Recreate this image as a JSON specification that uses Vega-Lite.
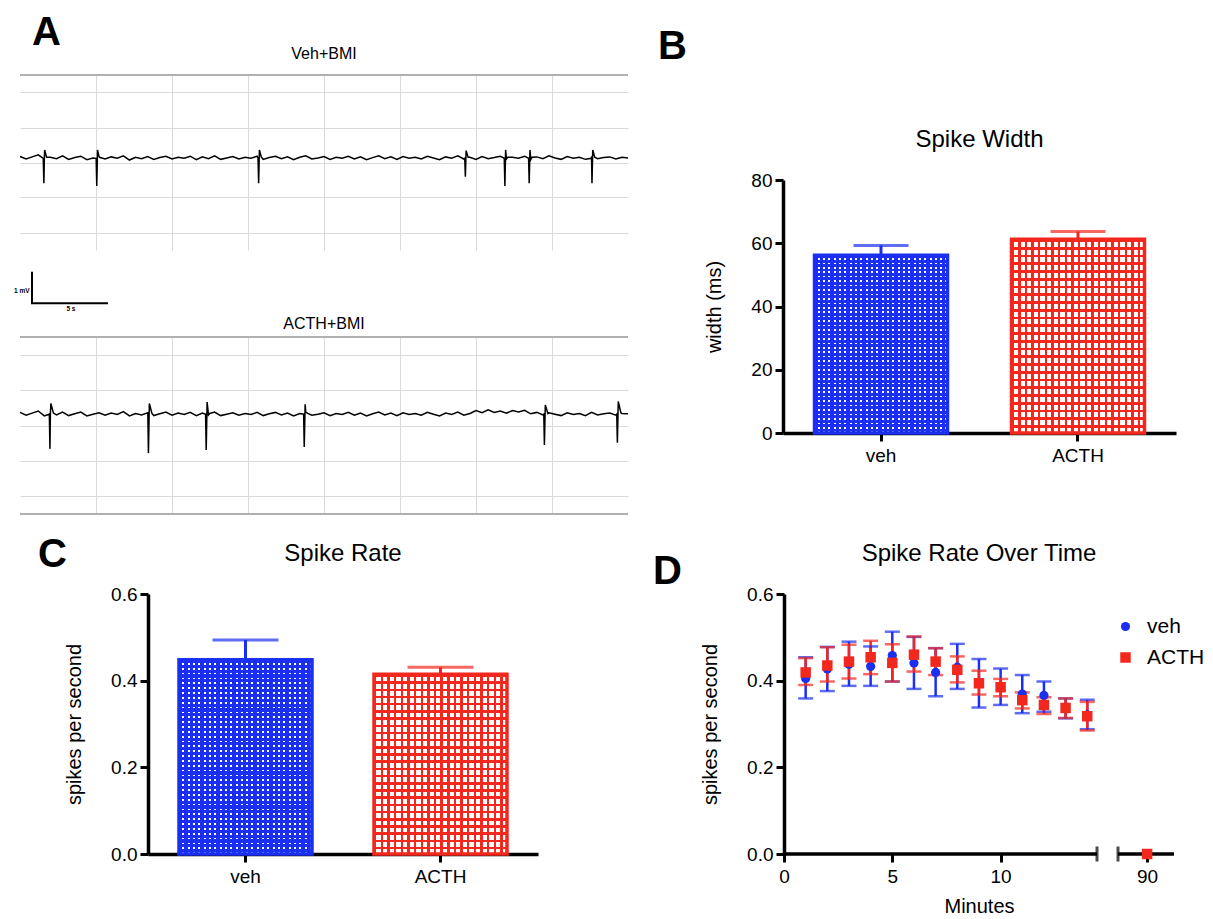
{
  "$schema": "https://vega.github.io/schema/vega-lite/v6.json",
  "background": "white",
  "padding": {"left": 14, "top": 13, "right": 0, "bottom": 0},
  "config": {
    "font": "Liberation Sans",
    "view": {"stroke": null},
    "title": {"font": "Liberation Sans", "fontWeight": "normal", "color": "black"},
    "axis": {
      "domainColor": "black", "domainWidth": 3.5, "tickColor": "black", "tickWidth": 3, "tickSize": 8,
      "labelColor": "black", "labelFontSize": 19, "labelFont": "Liberation Sans", "labelPadding": 3,
      "titleFont": "Liberation Sans", "titleFontSize": 20, "titleFontWeight": "normal", "titleColor": "black",
      "grid": false
    },
    "style": {
      "blueH": {"stroke": null, "color": {"gradient": "linear", "x1": 0, "y1": 0, "x2": 0, "y2": 1, "stops": [
        {"offset":0,"color":"#1b2ff0"},{"offset":0.016,"color":"#1b2ff0"},{"offset":0.016,"color":"#ffffff"},{"offset":0.025,"color":"#ffffff"},
        {"offset":0.025,"color":"#1b2ff0"},{"offset":0.041,"color":"#1b2ff0"},{"offset":0.041,"color":"#ffffff"},{"offset":0.05,"color":"#ffffff"},
        {"offset":0.05,"color":"#1b2ff0"},{"offset":0.066,"color":"#1b2ff0"},{"offset":0.066,"color":"#ffffff"},{"offset":0.075,"color":"#ffffff"},
        {"offset":0.075,"color":"#1b2ff0"},{"offset":0.091,"color":"#1b2ff0"},{"offset":0.091,"color":"#ffffff"},{"offset":0.1,"color":"#ffffff"},
        {"offset":0.1,"color":"#1b2ff0"},{"offset":0.116,"color":"#1b2ff0"},{"offset":0.116,"color":"#ffffff"},{"offset":0.125,"color":"#ffffff"},
        {"offset":0.125,"color":"#1b2ff0"},{"offset":0.141,"color":"#1b2ff0"},{"offset":0.141,"color":"#ffffff"},{"offset":0.15,"color":"#ffffff"},
        {"offset":0.15,"color":"#1b2ff0"},{"offset":0.166,"color":"#1b2ff0"},{"offset":0.166,"color":"#ffffff"},{"offset":0.175,"color":"#ffffff"},
        {"offset":0.175,"color":"#1b2ff0"},{"offset":0.191,"color":"#1b2ff0"},{"offset":0.191,"color":"#ffffff"},{"offset":0.2,"color":"#ffffff"},
        {"offset":0.2,"color":"#1b2ff0"},{"offset":0.216,"color":"#1b2ff0"},{"offset":0.216,"color":"#ffffff"},{"offset":0.225,"color":"#ffffff"},
        {"offset":0.225,"color":"#1b2ff0"},{"offset":0.241,"color":"#1b2ff0"},{"offset":0.241,"color":"#ffffff"},{"offset":0.25,"color":"#ffffff"},
        {"offset":0.25,"color":"#1b2ff0"},{"offset":0.266,"color":"#1b2ff0"},{"offset":0.266,"color":"#ffffff"},{"offset":0.275,"color":"#ffffff"},
        {"offset":0.275,"color":"#1b2ff0"},{"offset":0.291,"color":"#1b2ff0"},{"offset":0.291,"color":"#ffffff"},{"offset":0.3,"color":"#ffffff"},
        {"offset":0.3,"color":"#1b2ff0"},{"offset":0.316,"color":"#1b2ff0"},{"offset":0.316,"color":"#ffffff"},{"offset":0.325,"color":"#ffffff"},
        {"offset":0.325,"color":"#1b2ff0"},{"offset":0.341,"color":"#1b2ff0"},{"offset":0.341,"color":"#ffffff"},{"offset":0.35,"color":"#ffffff"},
        {"offset":0.35,"color":"#1b2ff0"},{"offset":0.366,"color":"#1b2ff0"},{"offset":0.366,"color":"#ffffff"},{"offset":0.375,"color":"#ffffff"},
        {"offset":0.375,"color":"#1b2ff0"},{"offset":0.391,"color":"#1b2ff0"},{"offset":0.391,"color":"#ffffff"},{"offset":0.4,"color":"#ffffff"},
        {"offset":0.4,"color":"#1b2ff0"},{"offset":0.416,"color":"#1b2ff0"},{"offset":0.416,"color":"#ffffff"},{"offset":0.425,"color":"#ffffff"},
        {"offset":0.425,"color":"#1b2ff0"},{"offset":0.441,"color":"#1b2ff0"},{"offset":0.441,"color":"#ffffff"},{"offset":0.45,"color":"#ffffff"},
        {"offset":0.45,"color":"#1b2ff0"},{"offset":0.466,"color":"#1b2ff0"},{"offset":0.466,"color":"#ffffff"},{"offset":0.475,"color":"#ffffff"},
        {"offset":0.475,"color":"#1b2ff0"},{"offset":0.491,"color":"#1b2ff0"},{"offset":0.491,"color":"#ffffff"},{"offset":0.5,"color":"#ffffff"},
        {"offset":0.5,"color":"#1b2ff0"},{"offset":0.516,"color":"#1b2ff0"},{"offset":0.516,"color":"#ffffff"},{"offset":0.525,"color":"#ffffff"},
        {"offset":0.525,"color":"#1b2ff0"},{"offset":0.541,"color":"#1b2ff0"},{"offset":0.541,"color":"#ffffff"},{"offset":0.55,"color":"#ffffff"},
        {"offset":0.55,"color":"#1b2ff0"},{"offset":0.566,"color":"#1b2ff0"},{"offset":0.566,"color":"#ffffff"},{"offset":0.575,"color":"#ffffff"},
        {"offset":0.575,"color":"#1b2ff0"},{"offset":0.591,"color":"#1b2ff0"},{"offset":0.591,"color":"#ffffff"},{"offset":0.6,"color":"#ffffff"},
        {"offset":0.6,"color":"#1b2ff0"},{"offset":0.616,"color":"#1b2ff0"},{"offset":0.616,"color":"#ffffff"},{"offset":0.625,"color":"#ffffff"},
        {"offset":0.625,"color":"#1b2ff0"},{"offset":0.641,"color":"#1b2ff0"},{"offset":0.641,"color":"#ffffff"},{"offset":0.65,"color":"#ffffff"},
        {"offset":0.65,"color":"#1b2ff0"},{"offset":0.666,"color":"#1b2ff0"},{"offset":0.666,"color":"#ffffff"},{"offset":0.675,"color":"#ffffff"},
        {"offset":0.675,"color":"#1b2ff0"},{"offset":0.691,"color":"#1b2ff0"},{"offset":0.691,"color":"#ffffff"},{"offset":0.7,"color":"#ffffff"},
        {"offset":0.7,"color":"#1b2ff0"},{"offset":0.716,"color":"#1b2ff0"},{"offset":0.716,"color":"#ffffff"},{"offset":0.725,"color":"#ffffff"},
        {"offset":0.725,"color":"#1b2ff0"},{"offset":0.741,"color":"#1b2ff0"},{"offset":0.741,"color":"#ffffff"},{"offset":0.75,"color":"#ffffff"},
        {"offset":0.75,"color":"#1b2ff0"},{"offset":0.766,"color":"#1b2ff0"},{"offset":0.766,"color":"#ffffff"},{"offset":0.775,"color":"#ffffff"},
        {"offset":0.775,"color":"#1b2ff0"},{"offset":0.791,"color":"#1b2ff0"},{"offset":0.791,"color":"#ffffff"},{"offset":0.8,"color":"#ffffff"},
        {"offset":0.8,"color":"#1b2ff0"},{"offset":0.816,"color":"#1b2ff0"},{"offset":0.816,"color":"#ffffff"},{"offset":0.825,"color":"#ffffff"},
        {"offset":0.825,"color":"#1b2ff0"},{"offset":0.841,"color":"#1b2ff0"},{"offset":0.841,"color":"#ffffff"},{"offset":0.85,"color":"#ffffff"},
        {"offset":0.85,"color":"#1b2ff0"},{"offset":0.866,"color":"#1b2ff0"},{"offset":0.866,"color":"#ffffff"},{"offset":0.875,"color":"#ffffff"},
        {"offset":0.875,"color":"#1b2ff0"},{"offset":0.891,"color":"#1b2ff0"},{"offset":0.891,"color":"#ffffff"},{"offset":0.9,"color":"#ffffff"},
        {"offset":0.9,"color":"#1b2ff0"},{"offset":0.916,"color":"#1b2ff0"},{"offset":0.916,"color":"#ffffff"},{"offset":0.925,"color":"#ffffff"},
        {"offset":0.925,"color":"#1b2ff0"},{"offset":0.941,"color":"#1b2ff0"},{"offset":0.941,"color":"#ffffff"},{"offset":0.95,"color":"#ffffff"},
        {"offset":0.95,"color":"#1b2ff0"},{"offset":0.966,"color":"#1b2ff0"},{"offset":0.966,"color":"#ffffff"},{"offset":0.975,"color":"#ffffff"},
        {"offset":0.975,"color":"#1b2ff0"},{"offset":0.991,"color":"#1b2ff0"},{"offset":0.991,"color":"#ffffff"},{"offset":1,"color":"#ffffff"}
      ]}},
      "blueV": {"stroke": null, "color": {"gradient": "linear", "x1": 0, "y1": 0, "x2": 1, "y2": 0, "stops": [
        {"offset":0,"color":"#1b2ff0"},{"offset":0.025,"color":"#1b2ff0"},{"offset":0.025,"color":"rgba(255,255,255,0)"},{"offset":0.04,"color":"rgba(255,255,255,0)"},
        {"offset":0.04,"color":"#1b2ff0"},{"offset":0.065,"color":"#1b2ff0"},{"offset":0.065,"color":"rgba(255,255,255,0)"},{"offset":0.08,"color":"rgba(255,255,255,0)"},
        {"offset":0.08,"color":"#1b2ff0"},{"offset":0.105,"color":"#1b2ff0"},{"offset":0.105,"color":"rgba(255,255,255,0)"},{"offset":0.12,"color":"rgba(255,255,255,0)"},
        {"offset":0.12,"color":"#1b2ff0"},{"offset":0.145,"color":"#1b2ff0"},{"offset":0.145,"color":"rgba(255,255,255,0)"},{"offset":0.16,"color":"rgba(255,255,255,0)"},
        {"offset":0.16,"color":"#1b2ff0"},{"offset":0.185,"color":"#1b2ff0"},{"offset":0.185,"color":"rgba(255,255,255,0)"},{"offset":0.2,"color":"rgba(255,255,255,0)"},
        {"offset":0.2,"color":"#1b2ff0"},{"offset":0.225,"color":"#1b2ff0"},{"offset":0.225,"color":"rgba(255,255,255,0)"},{"offset":0.24,"color":"rgba(255,255,255,0)"},
        {"offset":0.24,"color":"#1b2ff0"},{"offset":0.265,"color":"#1b2ff0"},{"offset":0.265,"color":"rgba(255,255,255,0)"},{"offset":0.28,"color":"rgba(255,255,255,0)"},
        {"offset":0.28,"color":"#1b2ff0"},{"offset":0.305,"color":"#1b2ff0"},{"offset":0.305,"color":"rgba(255,255,255,0)"},{"offset":0.32,"color":"rgba(255,255,255,0)"},
        {"offset":0.32,"color":"#1b2ff0"},{"offset":0.345,"color":"#1b2ff0"},{"offset":0.345,"color":"rgba(255,255,255,0)"},{"offset":0.36,"color":"rgba(255,255,255,0)"},
        {"offset":0.36,"color":"#1b2ff0"},{"offset":0.385,"color":"#1b2ff0"},{"offset":0.385,"color":"rgba(255,255,255,0)"},{"offset":0.4,"color":"rgba(255,255,255,0)"},
        {"offset":0.4,"color":"#1b2ff0"},{"offset":0.425,"color":"#1b2ff0"},{"offset":0.425,"color":"rgba(255,255,255,0)"},{"offset":0.44,"color":"rgba(255,255,255,0)"},
        {"offset":0.44,"color":"#1b2ff0"},{"offset":0.465,"color":"#1b2ff0"},{"offset":0.465,"color":"rgba(255,255,255,0)"},{"offset":0.48,"color":"rgba(255,255,255,0)"},
        {"offset":0.48,"color":"#1b2ff0"},{"offset":0.505,"color":"#1b2ff0"},{"offset":0.505,"color":"rgba(255,255,255,0)"},{"offset":0.52,"color":"rgba(255,255,255,0)"},
        {"offset":0.52,"color":"#1b2ff0"},{"offset":0.545,"color":"#1b2ff0"},{"offset":0.545,"color":"rgba(255,255,255,0)"},{"offset":0.56,"color":"rgba(255,255,255,0)"},
        {"offset":0.56,"color":"#1b2ff0"},{"offset":0.585,"color":"#1b2ff0"},{"offset":0.585,"color":"rgba(255,255,255,0)"},{"offset":0.6,"color":"rgba(255,255,255,0)"},
        {"offset":0.6,"color":"#1b2ff0"},{"offset":0.625,"color":"#1b2ff0"},{"offset":0.625,"color":"rgba(255,255,255,0)"},{"offset":0.64,"color":"rgba(255,255,255,0)"},
        {"offset":0.64,"color":"#1b2ff0"},{"offset":0.665,"color":"#1b2ff0"},{"offset":0.665,"color":"rgba(255,255,255,0)"},{"offset":0.68,"color":"rgba(255,255,255,0)"},
        {"offset":0.68,"color":"#1b2ff0"},{"offset":0.705,"color":"#1b2ff0"},{"offset":0.705,"color":"rgba(255,255,255,0)"},{"offset":0.72,"color":"rgba(255,255,255,0)"},
        {"offset":0.72,"color":"#1b2ff0"},{"offset":0.745,"color":"#1b2ff0"},{"offset":0.745,"color":"rgba(255,255,255,0)"},{"offset":0.76,"color":"rgba(255,255,255,0)"},
        {"offset":0.76,"color":"#1b2ff0"},{"offset":0.785,"color":"#1b2ff0"},{"offset":0.785,"color":"rgba(255,255,255,0)"},{"offset":0.8,"color":"rgba(255,255,255,0)"},
        {"offset":0.8,"color":"#1b2ff0"},{"offset":0.825,"color":"#1b2ff0"},{"offset":0.825,"color":"rgba(255,255,255,0)"},{"offset":0.84,"color":"rgba(255,255,255,0)"},
        {"offset":0.84,"color":"#1b2ff0"},{"offset":0.865,"color":"#1b2ff0"},{"offset":0.865,"color":"rgba(255,255,255,0)"},{"offset":0.88,"color":"rgba(255,255,255,0)"},
        {"offset":0.88,"color":"#1b2ff0"},{"offset":0.905,"color":"#1b2ff0"},{"offset":0.905,"color":"rgba(255,255,255,0)"},{"offset":0.92,"color":"rgba(255,255,255,0)"},
        {"offset":0.92,"color":"#1b2ff0"},{"offset":0.945,"color":"#1b2ff0"},{"offset":0.945,"color":"rgba(255,255,255,0)"},{"offset":0.96,"color":"rgba(255,255,255,0)"},
        {"offset":0.96,"color":"#1b2ff0"},{"offset":0.985,"color":"#1b2ff0"},{"offset":0.985,"color":"rgba(255,255,255,0)"},{"offset":1,"color":"rgba(255,255,255,0)"}
      ]}},
      "redH": {"stroke": null, "color": {"gradient": "linear", "x1": 0, "y1": 0, "x2": 0, "y2": 1, "stops": [
        {"offset":0,"color":"#f2281e"},{"offset":0.014,"color":"#f2281e"},{"offset":0.014,"color":"#ffffff"},{"offset":0.04,"color":"#ffffff"},
        {"offset":0.04,"color":"#f2281e"},{"offset":0.054,"color":"#f2281e"},{"offset":0.054,"color":"#ffffff"},{"offset":0.08,"color":"#ffffff"},
        {"offset":0.08,"color":"#f2281e"},{"offset":0.094,"color":"#f2281e"},{"offset":0.094,"color":"#ffffff"},{"offset":0.12,"color":"#ffffff"},
        {"offset":0.12,"color":"#f2281e"},{"offset":0.134,"color":"#f2281e"},{"offset":0.134,"color":"#ffffff"},{"offset":0.16,"color":"#ffffff"},
        {"offset":0.16,"color":"#f2281e"},{"offset":0.174,"color":"#f2281e"},{"offset":0.174,"color":"#ffffff"},{"offset":0.2,"color":"#ffffff"},
        {"offset":0.2,"color":"#f2281e"},{"offset":0.214,"color":"#f2281e"},{"offset":0.214,"color":"#ffffff"},{"offset":0.24,"color":"#ffffff"},
        {"offset":0.24,"color":"#f2281e"},{"offset":0.254,"color":"#f2281e"},{"offset":0.254,"color":"#ffffff"},{"offset":0.28,"color":"#ffffff"},
        {"offset":0.28,"color":"#f2281e"},{"offset":0.294,"color":"#f2281e"},{"offset":0.294,"color":"#ffffff"},{"offset":0.32,"color":"#ffffff"},
        {"offset":0.32,"color":"#f2281e"},{"offset":0.334,"color":"#f2281e"},{"offset":0.334,"color":"#ffffff"},{"offset":0.36,"color":"#ffffff"},
        {"offset":0.36,"color":"#f2281e"},{"offset":0.374,"color":"#f2281e"},{"offset":0.374,"color":"#ffffff"},{"offset":0.4,"color":"#ffffff"},
        {"offset":0.4,"color":"#f2281e"},{"offset":0.414,"color":"#f2281e"},{"offset":0.414,"color":"#ffffff"},{"offset":0.44,"color":"#ffffff"},
        {"offset":0.44,"color":"#f2281e"},{"offset":0.454,"color":"#f2281e"},{"offset":0.454,"color":"#ffffff"},{"offset":0.48,"color":"#ffffff"},
        {"offset":0.48,"color":"#f2281e"},{"offset":0.494,"color":"#f2281e"},{"offset":0.494,"color":"#ffffff"},{"offset":0.52,"color":"#ffffff"},
        {"offset":0.52,"color":"#f2281e"},{"offset":0.534,"color":"#f2281e"},{"offset":0.534,"color":"#ffffff"},{"offset":0.56,"color":"#ffffff"},
        {"offset":0.56,"color":"#f2281e"},{"offset":0.574,"color":"#f2281e"},{"offset":0.574,"color":"#ffffff"},{"offset":0.6,"color":"#ffffff"},
        {"offset":0.6,"color":"#f2281e"},{"offset":0.614,"color":"#f2281e"},{"offset":0.614,"color":"#ffffff"},{"offset":0.64,"color":"#ffffff"},
        {"offset":0.64,"color":"#f2281e"},{"offset":0.654,"color":"#f2281e"},{"offset":0.654,"color":"#ffffff"},{"offset":0.68,"color":"#ffffff"},
        {"offset":0.68,"color":"#f2281e"},{"offset":0.694,"color":"#f2281e"},{"offset":0.694,"color":"#ffffff"},{"offset":0.72,"color":"#ffffff"},
        {"offset":0.72,"color":"#f2281e"},{"offset":0.734,"color":"#f2281e"},{"offset":0.734,"color":"#ffffff"},{"offset":0.76,"color":"#ffffff"},
        {"offset":0.76,"color":"#f2281e"},{"offset":0.774,"color":"#f2281e"},{"offset":0.774,"color":"#ffffff"},{"offset":0.8,"color":"#ffffff"},
        {"offset":0.8,"color":"#f2281e"},{"offset":0.814,"color":"#f2281e"},{"offset":0.814,"color":"#ffffff"},{"offset":0.84,"color":"#ffffff"},
        {"offset":0.84,"color":"#f2281e"},{"offset":0.854,"color":"#f2281e"},{"offset":0.854,"color":"#ffffff"},{"offset":0.88,"color":"#ffffff"},
        {"offset":0.88,"color":"#f2281e"},{"offset":0.894,"color":"#f2281e"},{"offset":0.894,"color":"#ffffff"},{"offset":0.92,"color":"#ffffff"},
        {"offset":0.92,"color":"#f2281e"},{"offset":0.934,"color":"#f2281e"},{"offset":0.934,"color":"#ffffff"},{"offset":0.96,"color":"#ffffff"},
        {"offset":0.96,"color":"#f2281e"},{"offset":0.974,"color":"#f2281e"},{"offset":0.974,"color":"#ffffff"},{"offset":1,"color":"#ffffff"}
      ]}},
      "redV": {"stroke": null, "color": {"gradient": "linear", "x1": 0, "y1": 0, "x2": 1, "y2": 0, "stops": [
        {"offset":0,"color":"#f2281e"},{"offset":0.018,"color":"#f2281e"},{"offset":0.018,"color":"rgba(255,255,255,0)"},{"offset":0.05,"color":"rgba(255,255,255,0)"},
        {"offset":0.05,"color":"#f2281e"},{"offset":0.068,"color":"#f2281e"},{"offset":0.068,"color":"rgba(255,255,255,0)"},{"offset":0.1,"color":"rgba(255,255,255,0)"},
        {"offset":0.1,"color":"#f2281e"},{"offset":0.118,"color":"#f2281e"},{"offset":0.118,"color":"rgba(255,255,255,0)"},{"offset":0.15,"color":"rgba(255,255,255,0)"},
        {"offset":0.15,"color":"#f2281e"},{"offset":0.168,"color":"#f2281e"},{"offset":0.168,"color":"rgba(255,255,255,0)"},{"offset":0.2,"color":"rgba(255,255,255,0)"},
        {"offset":0.2,"color":"#f2281e"},{"offset":0.218,"color":"#f2281e"},{"offset":0.218,"color":"rgba(255,255,255,0)"},{"offset":0.25,"color":"rgba(255,255,255,0)"},
        {"offset":0.25,"color":"#f2281e"},{"offset":0.268,"color":"#f2281e"},{"offset":0.268,"color":"rgba(255,255,255,0)"},{"offset":0.3,"color":"rgba(255,255,255,0)"},
        {"offset":0.3,"color":"#f2281e"},{"offset":0.318,"color":"#f2281e"},{"offset":0.318,"color":"rgba(255,255,255,0)"},{"offset":0.35,"color":"rgba(255,255,255,0)"},
        {"offset":0.35,"color":"#f2281e"},{"offset":0.368,"color":"#f2281e"},{"offset":0.368,"color":"rgba(255,255,255,0)"},{"offset":0.4,"color":"rgba(255,255,255,0)"},
        {"offset":0.4,"color":"#f2281e"},{"offset":0.418,"color":"#f2281e"},{"offset":0.418,"color":"rgba(255,255,255,0)"},{"offset":0.45,"color":"rgba(255,255,255,0)"},
        {"offset":0.45,"color":"#f2281e"},{"offset":0.468,"color":"#f2281e"},{"offset":0.468,"color":"rgba(255,255,255,0)"},{"offset":0.5,"color":"rgba(255,255,255,0)"},
        {"offset":0.5,"color":"#f2281e"},{"offset":0.518,"color":"#f2281e"},{"offset":0.518,"color":"rgba(255,255,255,0)"},{"offset":0.55,"color":"rgba(255,255,255,0)"},
        {"offset":0.55,"color":"#f2281e"},{"offset":0.568,"color":"#f2281e"},{"offset":0.568,"color":"rgba(255,255,255,0)"},{"offset":0.6,"color":"rgba(255,255,255,0)"},
        {"offset":0.6,"color":"#f2281e"},{"offset":0.618,"color":"#f2281e"},{"offset":0.618,"color":"rgba(255,255,255,0)"},{"offset":0.65,"color":"rgba(255,255,255,0)"},
        {"offset":0.65,"color":"#f2281e"},{"offset":0.668,"color":"#f2281e"},{"offset":0.668,"color":"rgba(255,255,255,0)"},{"offset":0.7,"color":"rgba(255,255,255,0)"},
        {"offset":0.7,"color":"#f2281e"},{"offset":0.718,"color":"#f2281e"},{"offset":0.718,"color":"rgba(255,255,255,0)"},{"offset":0.75,"color":"rgba(255,255,255,0)"},
        {"offset":0.75,"color":"#f2281e"},{"offset":0.768,"color":"#f2281e"},{"offset":0.768,"color":"rgba(255,255,255,0)"},{"offset":0.8,"color":"rgba(255,255,255,0)"},
        {"offset":0.8,"color":"#f2281e"},{"offset":0.818,"color":"#f2281e"},{"offset":0.818,"color":"rgba(255,255,255,0)"},{"offset":0.85,"color":"rgba(255,255,255,0)"},
        {"offset":0.85,"color":"#f2281e"},{"offset":0.868,"color":"#f2281e"},{"offset":0.868,"color":"rgba(255,255,255,0)"},{"offset":0.9,"color":"rgba(255,255,255,0)"},
        {"offset":0.9,"color":"#f2281e"},{"offset":0.918,"color":"#f2281e"},{"offset":0.918,"color":"rgba(255,255,255,0)"},{"offset":0.95,"color":"rgba(255,255,255,0)"},
        {"offset":0.95,"color":"#f2281e"},{"offset":0.968,"color":"#f2281e"},{"offset":0.968,"color":"rgba(255,255,255,0)"},{"offset":1,"color":"rgba(255,255,255,0)"}
      ]}}
    }
  },
  "datasets": {
    "trace1": [
      {"t":0,"v":0.17},{"t":0.4,"v":0.10},{"t":0.8,"v":0.16},{"t":1.2,"v":0.22},{"t":1.6,"v":0.08},{"t":2.0,"v":0.15},{"t":2.4,"v":0.11},{"t":2.8,"v":0.19},{"t":3.2,"v":0.09},{"t":3.6,"v":0.14},
      {"t":4.0,"v":0.18},{"t":4.4,"v":0.08},{"t":4.8,"v":0.13},{"t":5.2,"v":0.17},{"t":5.6,"v":0.10},{"t":6.0,"v":0.16},{"t":6.4,"v":0.12},{"t":6.8,"v":0.19},{"t":7.2,"v":0.07},{"t":7.6,"v":0.15},
      {"t":8.0,"v":0.11},{"t":8.4,"v":0.17},{"t":8.8,"v":0.09},{"t":9.2,"v":0.14},{"t":9.6,"v":0.18},{"t":10.0,"v":0.10},{"t":10.4,"v":0.15},{"t":10.8,"v":0.12},{"t":11.2,"v":0.18},{"t":11.6,"v":0.08},
      {"t":12.0,"v":0.16},{"t":12.4,"v":0.11},{"t":12.8,"v":0.19},{"t":13.2,"v":0.09},{"t":13.6,"v":0.13},{"t":14.0,"v":0.17},{"t":14.4,"v":0.10},{"t":14.8,"v":0.15},{"t":15.2,"v":0.12},{"t":15.6,"v":0.18},
      {"t":16.0,"v":0.09},{"t":16.4,"v":0.14},{"t":16.8,"v":0.18},{"t":17.2,"v":0.11},{"t":17.6,"v":0.16},{"t":18.0,"v":0.08},{"t":18.4,"v":0.15},{"t":18.8,"v":0.19},{"t":19.2,"v":0.10},{"t":19.6,"v":0.13},
      {"t":20.0,"v":0.17},{"t":20.4,"v":0.09},{"t":20.8,"v":0.15},{"t":21.2,"v":0.12},{"t":21.6,"v":0.18},{"t":22.0,"v":0.10},{"t":22.4,"v":0.16},{"t":22.8,"v":0.08},{"t":23.2,"v":0.14},{"t":23.6,"v":0.19},
      {"t":24.0,"v":0.11},{"t":24.4,"v":0.16},{"t":24.8,"v":0.09},{"t":25.2,"v":0.17},{"t":25.6,"v":0.12},{"t":26.0,"v":0.15},{"t":26.4,"v":0.10},{"t":26.8,"v":0.18},{"t":27.2,"v":0.13},{"t":27.6,"v":0.08},
      {"t":28.0,"v":0.16},{"t":28.4,"v":0.12},{"t":28.8,"v":0.19},{"t":29.2,"v":0.10},{"t":29.6,"v":0.15},{"t":30.0,"v":0.09},{"t":30.4,"v":0.17},{"t":30.8,"v":0.11},{"t":31.2,"v":0.14},{"t":31.6,"v":0.18},
      {"t":32.0,"v":0.10},{"t":32.4,"v":0.15},{"t":32.8,"v":0.12},{"t":33.2,"v":0.18},{"t":33.6,"v":0.08},{"t":34.0,"v":0.16},{"t":34.4,"v":0.11},{"t":34.8,"v":0.19},{"t":35.2,"v":0.13},{"t":35.6,"v":0.09},
      {"t":36.0,"v":0.17},{"t":36.4,"v":0.12},{"t":36.8,"v":0.15},{"t":37.2,"v":0.09},{"t":37.6,"v":0.18},{"t":38.0,"v":0.11},{"t":38.4,"v":0.14},{"t":38.8,"v":0.16},{"t":39.2,"v":0.10},{"t":39.6,"v":0.15},{"t":40.0,"v":0.13},
      {"t":1.53,"v":0.12},{"t":1.57,"v":-0.59},{"t":1.62,"v":0.36},{"t":1.75,"v":0.15},
      {"t":5.01,"v":0.12},{"t":5.05,"v":-0.67},{"t":5.10,"v":0.36},{"t":5.23,"v":0.15},
      {"t":15.66,"v":0.12},{"t":15.70,"v":-0.59},{"t":15.75,"v":0.36},{"t":15.88,"v":0.15},
      {"t":29.26,"v":0.12},{"t":29.30,"v":-0.41},{"t":29.35,"v":0.34},{"t":29.48,"v":0.15},
      {"t":31.86,"v":0.12},{"t":31.90,"v":-0.67},{"t":31.95,"v":0.36},{"t":32.08,"v":0.15},
      {"t":33.46,"v":0.12},{"t":33.50,"v":-0.59},{"t":33.55,"v":0.36},{"t":33.68,"v":0.15},
      {"t":37.59,"v":0.12},{"t":37.63,"v":-0.59},{"t":37.68,"v":0.36},{"t":37.81,"v":0.15}
    ],
    "trace2": [
      {"t":0,"v":0.37},{"t":0.4,"v":0.29},{"t":0.8,"v":0.35},{"t":1.2,"v":0.41},{"t":1.6,"v":0.27},{"t":2.0,"v":0.34},{"t":2.4,"v":0.30},{"t":2.8,"v":0.38},{"t":3.2,"v":0.28},{"t":3.6,"v":0.33},
      {"t":4.0,"v":0.38},{"t":4.4,"v":0.27},{"t":4.8,"v":0.32},{"t":5.2,"v":0.36},{"t":5.6,"v":0.29},{"t":6.0,"v":0.35},{"t":6.4,"v":0.31},{"t":6.8,"v":0.39},{"t":7.2,"v":0.27},{"t":7.6,"v":0.34},
      {"t":8.0,"v":0.30},{"t":8.4,"v":0.36},{"t":8.8,"v":0.28},{"t":9.2,"v":0.33},{"t":9.6,"v":0.38},{"t":10.0,"v":0.29},{"t":10.4,"v":0.35},{"t":10.8,"v":0.31},{"t":11.2,"v":0.37},{"t":11.6,"v":0.28},
      {"t":12.0,"v":0.35},{"t":12.4,"v":0.30},{"t":12.8,"v":0.38},{"t":13.2,"v":0.28},{"t":13.6,"v":0.32},{"t":14.0,"v":0.36},{"t":14.4,"v":0.29},{"t":14.8,"v":0.34},{"t":15.2,"v":0.31},{"t":15.6,"v":0.37},
      {"t":16.0,"v":0.28},{"t":16.4,"v":0.33},{"t":16.8,"v":0.37},{"t":17.2,"v":0.30},{"t":17.6,"v":0.35},{"t":18.0,"v":0.27},{"t":18.4,"v":0.34},{"t":18.8,"v":0.38},{"t":19.2,"v":0.29},{"t":19.6,"v":0.32},
      {"t":20.0,"v":0.36},{"t":20.4,"v":0.28},{"t":20.8,"v":0.34},{"t":21.2,"v":0.31},{"t":21.6,"v":0.37},{"t":22.0,"v":0.29},{"t":22.4,"v":0.35},{"t":22.8,"v":0.27},{"t":23.2,"v":0.33},{"t":23.6,"v":0.38},
      {"t":24.0,"v":0.30},{"t":24.4,"v":0.35},{"t":24.8,"v":0.28},{"t":25.2,"v":0.36},{"t":25.6,"v":0.31},{"t":26.0,"v":0.34},{"t":26.4,"v":0.29},{"t":26.8,"v":0.37},{"t":27.2,"v":0.32},{"t":27.6,"v":0.27},
      {"t":28.0,"v":0.35},{"t":28.4,"v":0.31},{"t":28.8,"v":0.38},{"t":29.2,"v":0.29},{"t":29.6,"v":0.34},{"t":30.0,"v":0.42},{"t":30.4,"v":0.36},{"t":30.8,"v":0.44},{"t":31.2,"v":0.37},{"t":31.6,"v":0.41},
      {"t":32.0,"v":0.35},{"t":32.4,"v":0.42},{"t":32.8,"v":0.38},{"t":33.2,"v":0.43},{"t":33.6,"v":0.33},{"t":34.0,"v":0.37},{"t":34.4,"v":0.30},{"t":34.8,"v":0.36},{"t":35.2,"v":0.32},{"t":35.6,"v":0.28},
      {"t":36.0,"v":0.36},{"t":36.4,"v":0.31},{"t":36.8,"v":0.34},{"t":37.2,"v":0.28},{"t":37.6,"v":0.37},{"t":38.0,"v":0.30},{"t":38.4,"v":0.33},{"t":38.8,"v":0.35},{"t":39.2,"v":0.29},{"t":39.6,"v":0.34},{"t":40.0,"v":0.33},
      {"t":1.93,"v":0.32},{"t":1.97,"v":-0.66},{"t":2.03,"v":0.62},{"t":2.2,"v":0.35},
      {"t":8.41,"v":0.32},{"t":8.45,"v":-0.78},{"t":8.51,"v":0.62},{"t":8.68,"v":0.34},
      {"t":12.21,"v":0.32},{"t":12.25,"v":-0.69},{"t":12.31,"v":0.66},{"t":12.48,"v":0.34},
      {"t":18.66,"v":0.32},{"t":18.70,"v":-0.61},{"t":18.76,"v":0.60},{"t":18.93,"v":0.34},
      {"t":34.46,"v":0.32},{"t":34.50,"v":-0.55},{"t":34.56,"v":0.58},{"t":34.73,"v":0.34},
      {"t":39.26,"v":0.32},{"t":39.30,"v":-0.49},{"t":39.36,"v":0.68},{"t":39.53,"v":0.36}
    ],
    "scalebar": [{"i":1,"t":0.79,"v":1},{"i":2,"t":0.79,"v":0},{"i":3,"t":5.79,"v":0}],
    "scalelabels": [{"t":0.12,"v":0.38,"label":"1 mV"},{"t":3.35,"v":-0.2,"label":"5 s"}],
    "widthData": [{"group":"veh","mean":56.2,"hi":59.3},{"group":"ACTH","mean":61.3,"hi":63.7}],
    "rateBar": [{"group":"veh","mean":0.448,"hi":0.494},{"group":"ACTH","mean":0.415,"hi":0.431}],
    "rateTime": [
      {"group":"veh","minute":1,"mean":0.405,"lo":0.359,"hi":0.454},
      {"group":"veh","minute":2,"mean":0.427,"lo":0.376,"hi":0.478},
      {"group":"veh","minute":3,"mean":0.438,"lo":0.388,"hi":0.490},
      {"group":"veh","minute":4,"mean":0.433,"lo":0.388,"hi":0.479},
      {"group":"veh","minute":5,"mean":0.458,"lo":0.398,"hi":0.513},
      {"group":"veh","minute":6,"mean":0.441,"lo":0.381,"hi":0.501},
      {"group":"veh","minute":7,"mean":0.419,"lo":0.364,"hi":0.475},
      {"group":"veh","minute":8,"mean":0.431,"lo":0.381,"hi":0.485},
      {"group":"veh","minute":9,"mean":0.394,"lo":0.338,"hi":0.450},
      {"group":"veh","minute":10,"mean":0.386,"lo":0.344,"hi":0.428},
      {"group":"veh","minute":11,"mean":0.369,"lo":0.325,"hi":0.413},
      {"group":"veh","minute":12,"mean":0.366,"lo":0.328,"hi":0.398},
      {"group":"veh","minute":13,"mean":0.336,"lo":0.313,"hi":0.359},
      {"group":"veh","minute":14,"mean":0.321,"lo":0.288,"hi":0.356},
      {"group":"veh","minute":90,"mean":0},
      {"group":"ACTH","minute":1,"mean":0.419,"lo":0.390,"hi":0.452},
      {"group":"ACTH","minute":2,"mean":0.435,"lo":0.398,"hi":0.477},
      {"group":"ACTH","minute":3,"mean":0.444,"lo":0.405,"hi":0.483},
      {"group":"ACTH","minute":4,"mean":0.454,"lo":0.415,"hi":0.492},
      {"group":"ACTH","minute":5,"mean":0.441,"lo":0.398,"hi":0.484},
      {"group":"ACTH","minute":6,"mean":0.460,"lo":0.421,"hi":0.502},
      {"group":"ACTH","minute":7,"mean":0.444,"lo":0.413,"hi":0.475},
      {"group":"ACTH","minute":8,"mean":0.425,"lo":0.396,"hi":0.456},
      {"group":"ACTH","minute":9,"mean":0.394,"lo":0.368,"hi":0.423},
      {"group":"ACTH","minute":10,"mean":0.385,"lo":0.364,"hi":0.404},
      {"group":"ACTH","minute":11,"mean":0.355,"lo":0.336,"hi":0.373},
      {"group":"ACTH","minute":12,"mean":0.344,"lo":0.323,"hi":0.362},
      {"group":"ACTH","minute":13,"mean":0.337,"lo":0.314,"hi":0.359},
      {"group":"ACTH","minute":14,"mean":0.318,"lo":0.285,"hi":0.351},
      {"group":"ACTH","minute":90,"mean":0}
    ],
    "xbreak": [{"from":0,"to":14.45},{"from":88.66,"to":91.24}],
    "xcaps": [{"at":14.45},{"at":88.66}]
  },
  "resolve": {
    "scale": {"fill": "independent", "stroke": "independent", "color": "independent", "shape": "independent", "size": "independent"},
    "legend": {"fill": "independent", "stroke": "independent", "color": "independent", "shape": "independent", "size": "independent"}
  },
  "spacing": 20,
  "vconcat": [
    {
      "spacing": 27,
      "resolve": {
        "scale": {"fill": "independent", "stroke": "independent", "color": "independent", "shape": "independent", "size": "independent"},
        "legend": {"fill": "independent", "stroke": "independent", "color": "independent", "shape": "independent", "size": "independent"}
      },
      "hconcat": [
        {
          "title": {"text": "A", "anchor": "start", "fontSize": 40, "fontWeight": "bold", "dx": 18, "offset": -7},
          "spacing": 3,
          "vconcat": [
            {
              "title": {"text": "Veh+BMI", "fontSize": 16, "offset": 12},
              "width": 608, "height": 175,
              "layer": [
                {
                  "data": {"name": "trace1"},
                  "mark": {"type": "line", "color": "black", "strokeWidth": 1.5},
                  "encoding": {
                    "x": {"field": "t", "type": "quantitative", "scale": {"domain": [0, 40], "nice": false, "zero": false},
                          "axis": {"domain": false, "ticks": false, "labels": false, "title": null, "grid": true, "gridColor": "#dadada", "values": [5,10,15,20,25,30,35]}},
                    "y": {"field": "v", "type": "quantitative", "scale": {"domain": [-2.5, 2.5], "nice": false, "zero": false},
                          "axis": {"domain": false, "ticks": false, "labels": false, "title": null, "grid": true, "gridColor": "#dadada", "values": [-2,-1,0,1,2]}}
                  }
                },
                {
                  "data": {"values": [{}]},
                  "mark": {"type": "rule", "color": "#b0b0b0", "strokeWidth": 2},
                  "encoding": {"y": {"datum": 2.5}}
                }
              ]
            },
            {
              "width": 608, "height": 58,
              "layer": [
                {
                  "data": {"name": "scalebar"},
                  "mark": {"type": "line", "color": "black", "strokeWidth": 2},
                  "encoding": {
                    "x": {"field": "t", "type": "quantitative", "scale": {"domain": [0, 40], "nice": false, "zero": false}, "axis": null},
                    "y": {"field": "v", "type": "quantitative", "scale": {"domain": [-0.25, 1.6], "nice": false, "zero": false}, "axis": null},
                    "order": {"field": "i"}
                  }
                },
                {
                  "data": {"name": "scalelabels"},
                  "mark": {"type": "text", "fontSize": 6.5, "fontWeight": "bold", "color": "black"},
                  "encoding": {
                    "x": {"field": "t", "type": "quantitative"},
                    "y": {"field": "v", "type": "quantitative"},
                    "text": {"field": "label"}
                  }
                }
              ]
            },
            {
              "title": {"text": "ACTH+BMI", "fontSize": 16, "offset": 4},
              "width": 608, "height": 177,
              "layer": [
                {
                  "data": {"name": "trace2"},
                  "mark": {"type": "line", "color": "black", "strokeWidth": 1.5},
                  "encoding": {
                    "x": {"field": "t", "type": "quantitative", "scale": {"domain": [0, 40], "nice": false, "zero": false},
                          "axis": {"domain": false, "ticks": false, "labels": false, "title": null, "grid": true, "gridColor": "#dadada", "values": [5,10,15,20,25,30,35]}},
                    "y": {"field": "v", "type": "quantitative", "scale": {"domain": [-2.5, 2.5], "nice": false, "zero": false},
                          "axis": {"domain": false, "ticks": false, "labels": false, "title": null, "grid": true, "gridColor": "#dadada", "values": [-2,-1,0,1,2]}}
                  }
                },
                {
                  "data": {"values": [{"b": 2.5}, {"b": -2.5}]},
                  "mark": {"type": "rule", "color": "#b0b0b0", "strokeWidth": 2},
                  "encoding": {"y": {"field": "b", "type": "quantitative"}}
                }
              ]
            }
          ]
        },
        {
          "spacing": 52,
          "vconcat": [
            {
              "width": 1, "height": 1,
              "title": {"text": "B", "anchor": "start", "fontSize": 40, "fontWeight": "bold", "dx": -125, "offset": 8},
              "data": {"values": []},
              "mark": "point"
            },
            {
              "title": {"text": "Spike Width", "fontSize": 24, "offset": 19},
              "width": 393, "height": 253,
              "data": {"name": "widthData"},
              "encoding": {
                "x": {"field": "group", "type": "nominal", "sort": ["veh", "ACTH"], "scale": {"paddingInner": 0.325, "paddingOuter": 0.16},
                      "axis": {"title": null, "labelAngle": 0, "labelPadding": 5}},
                "y": {"field": "mean", "type": "quantitative", "scale": {"domain": [0, 80], "nice": false},
                      "axis": {"title": "width (ms)", "values": [0, 20, 40, 60, 80], "titlePadding": 26}}
              },
              "layer": [
                {"transform": [{"filter": "datum.group === 'veh'"}], "mark": {"type": "bar", "style": "blueH"}},
                {"transform": [{"filter": "datum.group === 'veh'"}], "mark": {"type": "bar", "style": "blueV"}},
                {"transform": [{"filter": "datum.group === 'ACTH'"}], "mark": {"type": "bar", "style": "redH"}},
                {"transform": [{"filter": "datum.group === 'ACTH'"}], "mark": {"type": "bar", "style": "redV"}},
                {
                  "mark": {"type": "bar", "fillOpacity": 0, "strokeWidth": 3.5},
                  "encoding": {
                    "stroke": {"field": "group", "type": "nominal", "scale": {"domain": ["veh", "ACTH"], "range": ["#1b2ff0", "#f2281e"]}, "legend": null}
                  }
                },
                {
                  "mark": {"type": "rule", "strokeWidth": 3},
                  "encoding": {
                    "y": {"field": "mean", "type": "quantitative", "axis": {"title": "width (ms)"}},
                    "y2": {"field": "hi"},
                    "color": {"field": "group", "type": "nominal", "scale": {"domain": ["veh", "ACTH"], "range": ["#1b2ff0", "#f2281e"]}, "legend": null}
                  }
                },
                {
                  "mark": {"type": "tick", "orient": "horizontal", "size": 55, "thickness": 3},
                  "encoding": {
                    "y": {"field": "hi", "type": "quantitative", "axis": {"title": "width (ms)"}},
                    "color": {"field": "group", "type": "nominal", "legend": null}
                  }
                }
              ]
            }
          ]
        }
      ]
    },
    {
      "spacing": 115,
      "resolve": {
        "scale": {"fill": "independent", "stroke": "independent", "color": "independent", "shape": "independent", "size": "independent"},
        "legend": {"fill": "independent", "stroke": "independent", "color": "independent", "shape": "independent", "size": "independent"}
      },
      "hconcat": [
        {
          "spacing": -3,
          "hconcat": [
            {
              "width": 1, "height": 1,
              "title": {"text": "C", "anchor": "start", "fontSize": 40, "fontWeight": "bold", "dx": 18, "offset": 19},
              "data": {"values": []},
              "mark": "point"
            },
            {
              "title": {"text": "Spike Rate", "fontSize": 24, "offset": 19},
              "width": 390, "height": 260,
              "data": {"name": "rateBar"},
              "encoding": {
                "x": {"field": "group", "type": "nominal", "sort": ["veh", "ACTH"], "scale": {"paddingInner": 0.318, "paddingOuter": 0.159},
                      "axis": {"title": null, "labelAngle": 0, "labelPadding": 5}},
                "y": {"field": "mean", "type": "quantitative", "scale": {"domain": [0, 0.6], "nice": false},
                      "axis": {"title": "spikes per second", "values": [0, 0.2, 0.4, 0.6], "format": ".1f", "titlePadding": 26}}
              },
              "layer": [
                {"transform": [{"filter": "datum.group === 'veh'"}], "mark": {"type": "bar", "style": "blueH"}},
                {"transform": [{"filter": "datum.group === 'veh'"}], "mark": {"type": "bar", "style": "blueV"}},
                {"transform": [{"filter": "datum.group === 'ACTH'"}], "mark": {"type": "bar", "style": "redH"}},
                {"transform": [{"filter": "datum.group === 'ACTH'"}], "mark": {"type": "bar", "style": "redV"}},
                {
                  "mark": {"type": "bar", "fillOpacity": 0, "strokeWidth": 3.5},
                  "encoding": {
                    "stroke": {"field": "group", "type": "nominal", "scale": {"domain": ["veh", "ACTH"], "range": ["#1b2ff0", "#f2281e"]}, "legend": null}
                  }
                },
                {
                  "mark": {"type": "rule", "strokeWidth": 3},
                  "encoding": {
                    "y": {"field": "mean", "type": "quantitative", "axis": {"title": "spikes per second"}},
                    "y2": {"field": "hi"},
                    "color": {"field": "group", "type": "nominal", "scale": {"domain": ["veh", "ACTH"], "range": ["#1b2ff0", "#f2281e"]}, "legend": null}
                  }
                },
                {
                  "mark": {"type": "tick", "orient": "horizontal", "size": 66, "thickness": 3},
                  "encoding": {
                    "y": {"field": "hi", "type": "quantitative", "axis": {"title": "spikes per second"}},
                    "color": {"field": "group", "type": "nominal", "legend": null}
                  }
                }
              ]
            }
          ]
        },
        {
          "spacing": 18,
          "resolve": {
            "scale": {"fill": "independent", "stroke": "independent", "color": "independent", "shape": "independent", "size": "independent"},
            "legend": {"fill": "independent", "stroke": "independent", "color": "independent", "shape": "independent", "size": "independent"}
          },
          "hconcat": [
            {
              "width": 1, "height": 1,
              "title": {"text": "D", "anchor": "start", "fontSize": 40, "fontWeight": "bold", "dx": 0, "offset": 2},
              "data": {"values": []},
              "mark": "point"
            },
            {
              "title": {"text": "Spike Rate Over Time", "fontSize": 24, "offset": 19},
              "width": 390, "height": 260,
              "layer": [
                {
                  "data": {"name": "xbreak"},
                  "mark": {"type": "rule", "strokeWidth": 3.5, "color": "black"},
                  "encoding": {
                    "x": {"field": "from", "type": "quantitative",
                          "scale": {"domain": [0, 14.45, 88.66, 91.24], "range": [0, 313, 334, 390], "nice": false, "zero": false},
                          "axis": {"values": [0, 5, 10, 90], "domain": false, "labelFlush": false, "title": "Minutes", "titlePadding": 10, "labelPadding": 5}},
                    "x2": {"field": "to"},
                    "y": {"datum": 0, "type": "quantitative",
                          "scale": {"domain": [0, 0.6], "nice": false, "zero": false},
                          "axis": {"title": "spikes per second", "values": [0, 0.2, 0.4, 0.6], "format": ".1f", "titlePadding": 26}}
                  }
                },
                {
                  "data": {"name": "xcaps"},
                  "mark": {"type": "tick", "orient": "vertical", "size": 15, "thickness": 3, "color": "black"},
                  "encoding": {
                    "x": {"field": "at", "type": "quantitative", "axis": {"title": "Minutes"}},
                    "y": {"datum": 0, "type": "quantitative"}
                  }
                },
                {
                  "data": {"name": "rateTime"},
                  "mark": {"type": "rule", "strokeWidth": 2.5},
                  "encoding": {
                    "x": {"field": "minute", "type": "quantitative", "axis": {"title": "Minutes"}},
                    "y": {"field": "lo", "type": "quantitative", "axis": {"title": "spikes per second"}},
                    "y2": {"field": "hi"},
                    "color": {"field": "group", "type": "nominal", "scale": {"domain": ["ACTH", "veh"], "range": ["#f2281e", "#1b2ff0"]}, "legend": null}
                  }
                },
                {
                  "data": {"name": "rateTime"},
                  "mark": {"type": "tick", "orient": "horizontal", "size": 15, "thickness": 2.5},
                  "encoding": {
                    "x": {"field": "minute", "type": "quantitative", "axis": {"title": "Minutes"}},
                    "y": {"field": "lo", "type": "quantitative", "axis": {"title": "spikes per second"}},
                    "color": {"field": "group", "type": "nominal", "legend": null}
                  }
                },
                {
                  "data": {"name": "rateTime"},
                  "mark": {"type": "tick", "orient": "horizontal", "size": 15, "thickness": 2.5},
                  "encoding": {
                    "x": {"field": "minute", "type": "quantitative", "axis": {"title": "Minutes"}},
                    "y": {"field": "hi", "type": "quantitative", "axis": {"title": "spikes per second"}},
                    "color": {"field": "group", "type": "nominal", "legend": null}
                  }
                },
                {
                  "data": {"name": "rateTime"},
                  "mark": {"type": "point", "filled": true, "opacity": 1, "strokeWidth": 0},
                  "encoding": {
                    "x": {"field": "minute", "type": "quantitative", "axis": {"title": "Minutes"}},
                    "y": {"field": "mean", "type": "quantitative", "axis": {"title": "spikes per second"}},
                    "fill": {"field": "group", "type": "nominal", "scale": {"domain": ["veh", "ACTH"], "range": ["#1b2ff0", "#f2281e"]},
                             "legend": {"orient": "none", "legendX": 331, "legendY": 22, "title": null, "labelFontSize": 21, "labelColor": "black", "rowPadding": 9, "labelOffset": 11, "symbolStrokeWidth": 0}},
                    "shape": {"field": "group", "type": "nominal", "scale": {"domain": ["veh", "ACTH"], "range": ["circle", "square"]},
                              "legend": {"orient": "none", "legendX": 331, "legendY": 22, "title": null, "labelFontSize": 21, "labelColor": "black", "rowPadding": 9, "labelOffset": 11, "symbolStrokeWidth": 0}},
                    "size": {"field": "group", "type": "nominal", "scale": {"domain": ["veh", "ACTH"], "range": [85, 110]},
                             "legend": {"orient": "none", "legendX": 331, "legendY": 22, "title": null, "labelFontSize": 21, "labelColor": "black", "rowPadding": 9, "labelOffset": 11, "symbolStrokeWidth": 0}}
                  }
                }
              ]
            }
          ]
        }
      ]
    }
  ]
}
